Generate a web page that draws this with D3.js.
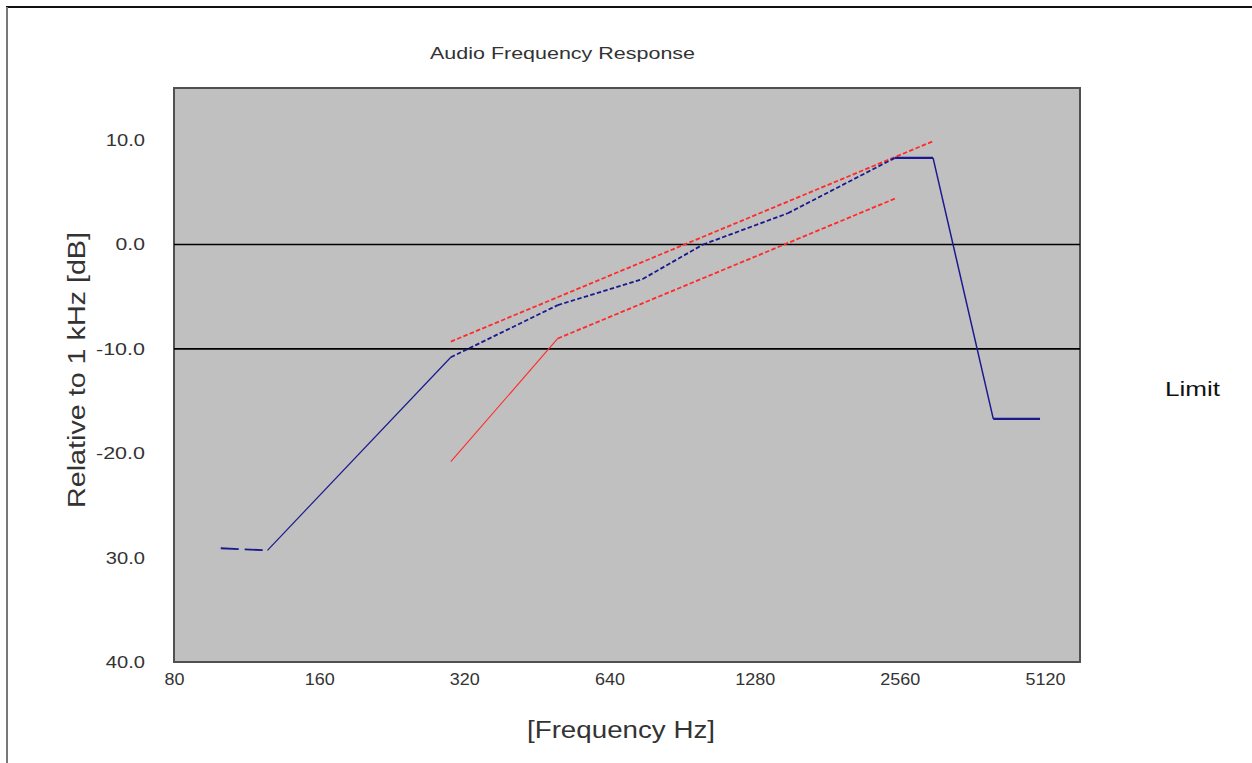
<!DOCTYPE html>
<html>
<head>
<meta charset="utf-8">
<script src="https://cdn.jsdelivr.net/npm/d3@7/dist/d3.min.js"></script>
<style>
  html, body { margin: 0; padding: 0; background: #ffffff; }
  svg { display: block; }
  text { font-family: "Liberation Sans", Arial, sans-serif; }
</style>
</head>
<body>
<svg id="chart" width="1252" height="763"></svg>
<script>
// Measured response (dB relative to 1 kHz)
const responseFreq = [100, 125, 300, 500, 750, 1000, 1500, 2500, 3000, 4000, 5000];
const responseDb   = [-29.1, -29.3, -10.8, -5.8, -3.3, 0.0, 3.0, 8.3, 8.3, -16.7, -16.7];

// Upper and lower limit masks
const upperFreq = [300, 3000];
const upperDb   = [-9.3, 9.9];
const lowerFreq = [300, 500, 2500];
const lowerDb   = [-20.8, -9.0, 4.4];

// Axis ticks
const xTicks = [80, 160, 320, 640, 1280, 2560, 5120];
const yTicks = [10, 0, -10, -20, -30, -40];
const yTickLabels = ["10.0", "0.0", "-10.0", "-20.0", "30.0", "40.0"];
const refLines = [0, -10];

const titleText = "Audio Frequency Response";
const xTitle = "[Frequency Hz]";
const yTitle = "Relative to 1 kHz [dB]";
const legendText = "Limit";

// Line styling per segment
const DASH = "4.5,2.3";
const LONG = "18,6";
const responseSegDash = [LONG, null, DASH, DASH, DASH, DASH, DASH, null, null, null];
const responseSegWidth = [1.8, 1.2, 1.8, 1.8, 1.8, 1.8, 1.8, 2.2, 1.5, 2.2];
const upperSegDash = [DASH];
const upperSegWidth = [1.8];
const lowerSegDash = [null, DASH];
const lowerSegWidth = [1.1, 1.8];

const svg = d3.select("#chart");
const plot = { left: 174, top: 88, right: 1080, bottom: 662 };

// Outer frame (top and left edges)
svg.append("line").attr("x1", 6).attr("x2", 1252).attr("y1", 7).attr("y2", 7)
  .attr("stroke", "#111").attr("stroke-width", 2);
svg.append("line").attr("x1", 7).attr("x2", 7).attr("y1", 7).attr("y2", 763)
  .attr("stroke", "#777").attr("stroke-width", 2);

const x = d3.scaleLog().base(2).domain([80, 5120]).range([plot.left, 1045]);
const y = d3.scaleLinear().domain([-40, 15]).range([plot.bottom, plot.top]);

// Plot area
svg.append("rect")
  .attr("x", plot.left).attr("y", plot.top)
  .attr("width", plot.right - plot.left).attr("height", plot.bottom - plot.top)
  .attr("fill", "#c0c0c0").attr("stroke", "#505050").attr("stroke-width", 2);

// Reference lines
svg.selectAll("line.ref").data(refLines).join("line")
  .attr("class", "ref")
  .attr("x1", plot.left).attr("x2", plot.right)
  .attr("y1", d => y(d)).attr("y2", d => y(d))
  .attr("stroke", "#000").attr("stroke-width", 1.6);

// Axes (labels only)
const xAxis = d3.axisBottom(x).tickValues(xTicks).tickFormat(d3.format("d")).tickSize(0).tickPadding(0);
const gx = svg.append("g").attr("transform", `translate(0,${plot.bottom + 20})`).call(xAxis);
gx.select(".domain").remove();
gx.selectAll("text").attr("font-size", 17).attr("fill", "#333")
  .attr("font-family", "Liberation Sans, Arial, sans-serif").attr("dy", "0.2em")
  .attr("textLength", function () { return this.textContent.length * 10; })
  .attr("lengthAdjust", "spacingAndGlyphs");

const yAxis = d3.axisLeft(y).tickValues(yTicks).tickFormat((d, i) => yTickLabels[i]).tickSize(0).tickPadding(0);
const gy = svg.append("g").attr("transform", `translate(145,0)`).call(yAxis);
gy.select(".domain").remove();
gy.selectAll("text").attr("font-size", 17).attr("fill", "#333")
  .attr("font-family", "Liberation Sans, Arial, sans-serif")
  .attr("textLength", function () { return this.textContent.length * 9.8; })
  .attr("lengthAdjust", "spacingAndGlyphs");

// Titles
svg.append("text").attr("x", 430).attr("y", 59)
  .attr("font-size", 17).attr("fill", "#333")
  .attr("textLength", 265).attr("lengthAdjust", "spacingAndGlyphs")
  .text(titleText);

svg.append("text").attr("x", 621).attr("y", 738)
  .attr("text-anchor", "middle").attr("font-size", 23).attr("fill", "#333")
  .attr("textLength", 188).attr("lengthAdjust", "spacingAndGlyphs")
  .text(xTitle);

svg.append("text")
  .attr("transform", "translate(85,370) rotate(-90)")
  .attr("text-anchor", "middle").attr("font-size", 23).attr("fill", "#333")
  .attr("textLength", 276).attr("lengthAdjust", "spacingAndGlyphs")
  .text(yTitle);

svg.append("text").attr("x", 1165).attr("y", 396)
  .attr("font-size", 21).attr("fill", "#111")
  .attr("textLength", 55).attr("lengthAdjust", "spacingAndGlyphs")
  .text(legendText);

// Draw a polyline segment by segment so each can carry its own dash
function drawSegments(freqs, vals, color, dashes, widths) {
  const pts = freqs.map((f, i) => [x(f), y(vals[i])]);
  const line = d3.line();
  const g = svg.append("g");
  for (let i = 0; i < pts.length - 1; i++) {
    g.append("path")
      .attr("d", line([pts[i], pts[i + 1]]))
      .attr("fill", "none")
      .attr("stroke", color)
      .attr("stroke-width", widths[i])
      .attr("stroke-dasharray", dashes[i])
      .attr("stroke-linecap", "butt");
  }
}

drawSegments(upperFreq, upperDb, "#ff2a2a", upperSegDash, upperSegWidth);
drawSegments(lowerFreq, lowerDb, "#ff2a2a", lowerSegDash, lowerSegWidth);
drawSegments(responseFreq, responseDb, "#1a1a8e", responseSegDash, responseSegWidth);
</script>
</body>
</html>
